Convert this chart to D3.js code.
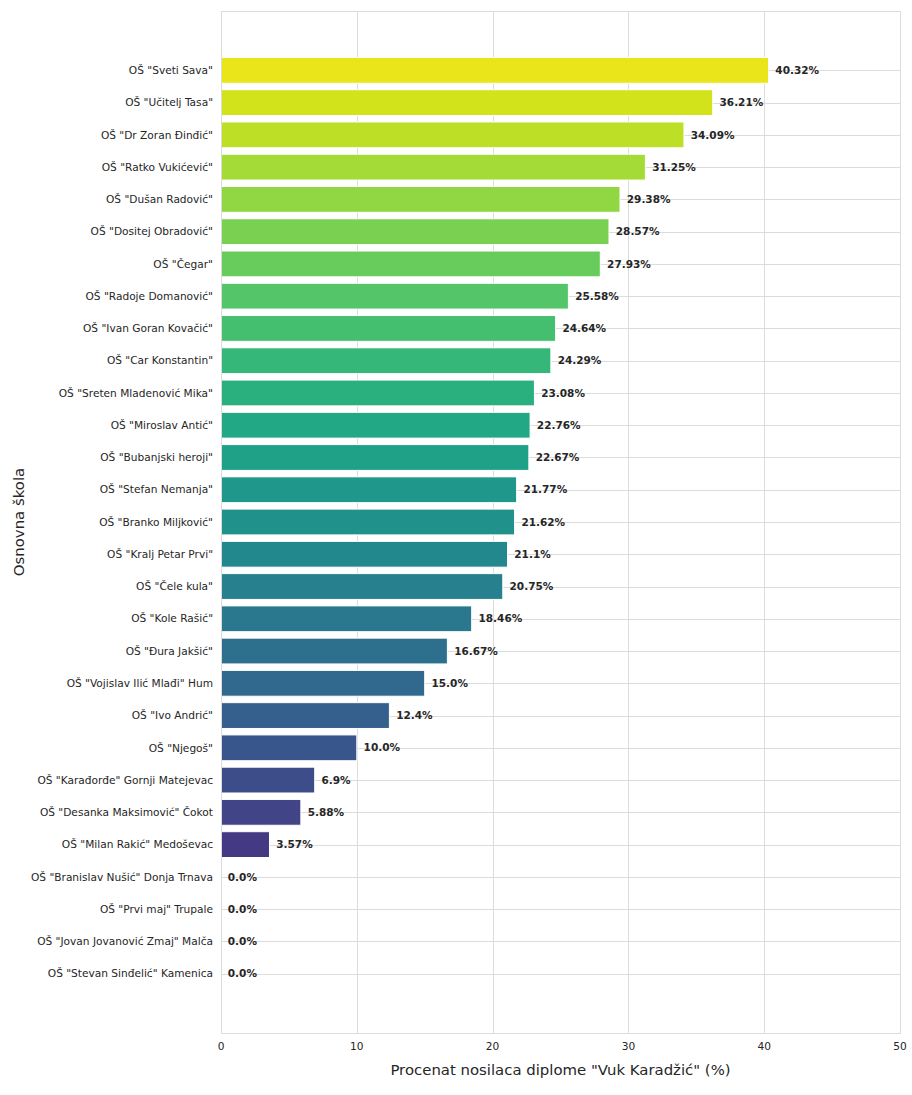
<!DOCTYPE html>
<html>
<head>
<meta charset="utf-8">
<script src="https://cdn.jsdelivr.net/npm/d3@7"></script>
<style>
  body { margin: 0; background: #ffffff; }
  svg { font-family: "DejaVu Sans", sans-serif; }
</style>
</head>
<body>
<div id="chart"></div>
<script>
// School names, top to bottom.
const schools = [
  'OŠ "Sveti Sava"', 'OŠ "Učitelj Tasa"', 'OŠ "Dr Zoran Đinđić"', 'OŠ "Ratko Vukićević"',
  'OŠ "Dušan Radović"', 'OŠ "Dositej Obradović"', 'OŠ "Čegar"', 'OŠ "Radoje Domanović"',
  'OŠ "Ivan Goran Kovačić"', 'OŠ "Car Konstantin"', 'OŠ "Sreten Mladenović Mika"',
  'OŠ "Miroslav Antić"', 'OŠ "Bubanjski heroji"', 'OŠ "Stefan Nemanja"', 'OŠ "Branko Miljković"',
  'OŠ "Kralj Petar Prvi"', 'OŠ "Čele kula"', 'OŠ "Kole Rašić"', 'OŠ "Đura Jakšić"',
  'OŠ "Vojislav Ilić Mlađi" Hum', 'OŠ "Ivo Andrić"', 'OŠ "Njegoš"', 'OŠ "Karađorđe" Gornji Matejevac',
  'OŠ "Desanka Maksimović" Čokot', 'OŠ "Milan Rakić" Medoševac', 'OŠ "Branislav Nušić" Donja Trnava',
  'OŠ "Prvi maj" Trupale', 'OŠ "Jovan Jovanović Zmaj" Malča', 'OŠ "Stevan Sinđelić" Kamenica'
];
// Percentage of "Vuk Karadžić" diploma holders.
const percents = [
  40.32, 36.21, 34.09, 31.25, 29.38, 28.57, 27.93, 25.58, 24.64, 24.29, 23.08, 22.76, 22.67,
  21.77, 21.62, 21.1, 20.75, 18.46, 16.67, 15.0, 12.4, 10.0, 6.9, 5.88, 3.57, 0.0, 0.0, 0.0, 0.0
];
// Label text for each bar, as printed.
const valueLabels = [
  "40.32%", "36.21%", "34.09%", "31.25%", "29.38%", "28.57%", "27.93%", "25.58%", "24.64%",
  "24.29%", "23.08%", "22.76%", "22.67%", "21.77%", "21.62%", "21.1%", "20.75%", "18.46%",
  "16.67%", "15.0%", "12.4%", "10.0%", "6.9%", "5.88%", "3.57%", "0.0%", "0.0%", "0.0%", "0.0%"
];
const xTicks = [0, 10, 20, 30, 40, 50];

const width = 912, height = 1095;
const margin = { top: 11, right: 12, bottom: 62, left: 221 };
const textColor = "#262626";
const gridColor = "#dcdcdc";

const svg = d3.select("#chart").append("svg")
  .attr("width", width)
  .attr("height", height);

// Horizontal scale for the percentages.
const x = d3.scaleLinear()
  .domain([0, 50])
  .range([margin.left, width - margin.right]);
// Rows are placed on a linear index scale with some padding above and below.
const n = schools.length;
const pad = 1.84;
const y = d3.scaleLinear()
  .domain([-pad, n - 1 + pad])
  .range([margin.top, height - margin.bottom]);
const barH = (y(1) - y(0)) * 0.8;

// Reversed viridis, like the seaborn palette (excluding the two extremes).
const color = i => d3.interpolateViridis((n - i) / (n + 1));

// Grid lines.
svg.append("g")
  .selectAll("line")
  .data(xTicks)
  .join("line")
  .attr("x1", d => Math.round(x(d)) + 0.5)
  .attr("x2", d => Math.round(x(d)) + 0.5)
  .attr("y1", margin.top)
  .attr("y2", height - margin.bottom)
  .attr("stroke", gridColor);
svg.append("g")
  .selectAll("line")
  .data(schools)
  .join("line")
  .attr("x1", margin.left)
  .attr("x2", width - margin.right)
  .attr("y1", (d, i) => Math.round(y(i)) + 0.5)
  .attr("y2", (d, i) => Math.round(y(i)) + 0.5)
  .attr("stroke", gridColor);

// Bars.
svg.append("g")
  .selectAll("rect")
  .data(percents)
  .join("rect")
  .attr("x", x(0))
  .attr("y", (d, i) => y(i) - barH / 2)
  .attr("width", d => x(d) - x(0))
  .attr("height", barH)
  .attr("fill", (d, i) => color(i))
  .attr("stroke", d => d > 0 ? "#ffffff" : "none")
  .attr("stroke-width", 1);

// Value labels.
svg.append("g")
  .selectAll("text")
  .data(percents)
  .join("text")
  .attr("x", d => x(d + 0.5))
  .attr("y", (d, i) => y(i))
  .attr("dy", "0.35em")
  .attr("font-size", "10.5px")
  .attr("font-weight", "bold")
  .attr("fill", textColor)
  .text((d, i) => valueLabels[i]);

// Frame around the plot area.
svg.append("rect")
  .attr("x", margin.left + 0.5)
  .attr("y", margin.top + 0.5)
  .attr("width", width - margin.right - margin.left)
  .attr("height", height - margin.bottom - margin.top)
  .attr("fill", "none")
  .attr("stroke", gridColor);

// Y tick labels (school names).
svg.append("g")
  .selectAll("text")
  .data(schools)
  .join("text")
  .attr("x", margin.left - 8)
  .attr("y", (d, i) => y(i))
  .attr("dy", "0.35em")
  .attr("text-anchor", "end")
  .attr("font-size", "10.6px")
  .attr("fill", textColor)
  .text(d => d);

// X tick labels.
svg.append("g")
  .selectAll("text")
  .data(xTicks)
  .join("text")
  .attr("x", d => x(d))
  .attr("y", height - margin.bottom + 13)
  .attr("dy", "0.35em")
  .attr("text-anchor", "middle")
  .attr("font-size", "10.6px")
  .attr("fill", textColor)
  .text(d => d);

// Axis titles.
svg.append("text")
  .attr("x", (margin.left + width - margin.right) / 2)
  .attr("y", 1070)
  .attr("dy", "0.35em")
  .attr("text-anchor", "middle")
  .attr("font-size", "14.9px")
  .attr("fill", textColor)
  .text('Procenat nosilaca diplome "Vuk Karadžić" (%)');
svg.append("text")
  .attr("transform", `translate(19,${(margin.top + height - margin.bottom) / 2}) rotate(-90)`)
  .attr("dy", "0.35em")
  .attr("text-anchor", "middle")
  .attr("font-size", "14.9px")
  .attr("fill", textColor)
  .text("Osnovna škola");
</script>
</body>
</html>
